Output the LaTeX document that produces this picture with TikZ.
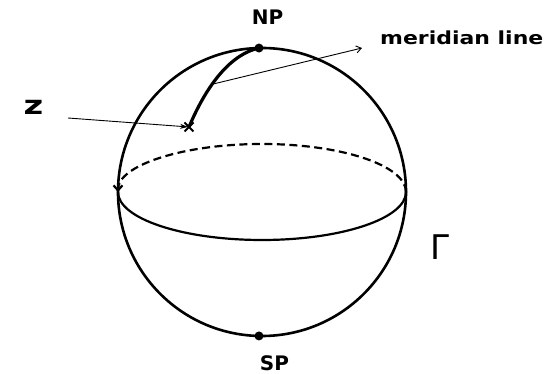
\documentclass[tikz,border=0pt]{standalone}
\usepackage{fontspec}
\newfontfamily\hand{DejaVu Sans}
\usetikzlibrary{arrows.meta,calc}
\begin{document}
\begin{tikzpicture}[x=1pt,y=1pt,
  outline/.style={line width=2.6pt},
  equat/.style={line width=2.2pt},
  backdash/.style={line width=2.2pt, dash pattern=on 8pt off 4.5pt},
  merid/.style={line width=3.2pt},
  pointer/.style={line width=0.9pt},
  crossline/.style={line width=2pt},
  lbl/.style={inner sep=0pt, text=black},
  dot/.style={circle, fill=black, inner sep=0pt, minimum size=9pt}]
\useasboundingbox[fill=white] (0,0) rectangle (549,374);
\coordinate (C) at (262,182);
% sphere
\draw[outline] (C) circle[radius=144];
% equator
\coordinate (EL) at (118,182);
\coordinate (ER) at (406,182);
\draw[equat] (EL) arc[start angle=180,end angle=360,x radius=144,y radius=48];
\draw[backdash, -{Straight Barb[length=5pt,width=9pt]}] (ER) arc[start angle=0,end angle=180,x radius=144,y radius=48];
% poles
\node[dot] (NP) at ($(C)+(91.2:144)$) {};
\node[dot] (SP) at ($(C)+(-91.2:144)$) {};
% point z
\coordinate (X) at (189,247);
\draw[crossline] ($(X)+(-4.5,-4.5)$) -- ($(X)+(4.5,4.5)$) ($(X)+(-4.5,4.5)$) -- ($(X)+(4.5,-4.5)$);
% meridian line
\draw[merid] (X) .. controls (208,292) and (232,320) .. (NP.center) coordinate[pos=0.37] (mp);
% pointers
\coordinate (zs) at (68,256);
\coordinate (mtip) at (362,326);
\draw[pointer, -{Stealth[length=8pt,width=5pt]}, shorten >=1pt] (zs) -- (X);
\draw[pointer, -{Straight Barb[length=5pt,width=7pt]}] (mp) -- (mtip);
% labels
\node[lbl, font={\fontsize{20}{22}\selectfont\hand\bfseries}] (NPl) at (267.5,356.5) {NP};
\node[lbl, font={\fontsize{20}{22}\selectfont\hand\bfseries}] (SPl) at (274.5,11) {SP};
\node[lbl, anchor=base west, font={\fontsize{18}{20}\selectfont\hand\bfseries}] (ml) at (380,329) {\scalebox{1.22}[1]{meridian line}};
\node[lbl, font={\fontsize{26}{28}\selectfont\hand\bfseries}] (zl) at (33.5,266.5) {\scalebox{1.3}[1]{z}};
\node[lbl, font={\fontsize{34}{36}\selectfont\hand}] (Gl) at (439.5,126.5) {Γ};
\end{tikzpicture}
\end{document}
